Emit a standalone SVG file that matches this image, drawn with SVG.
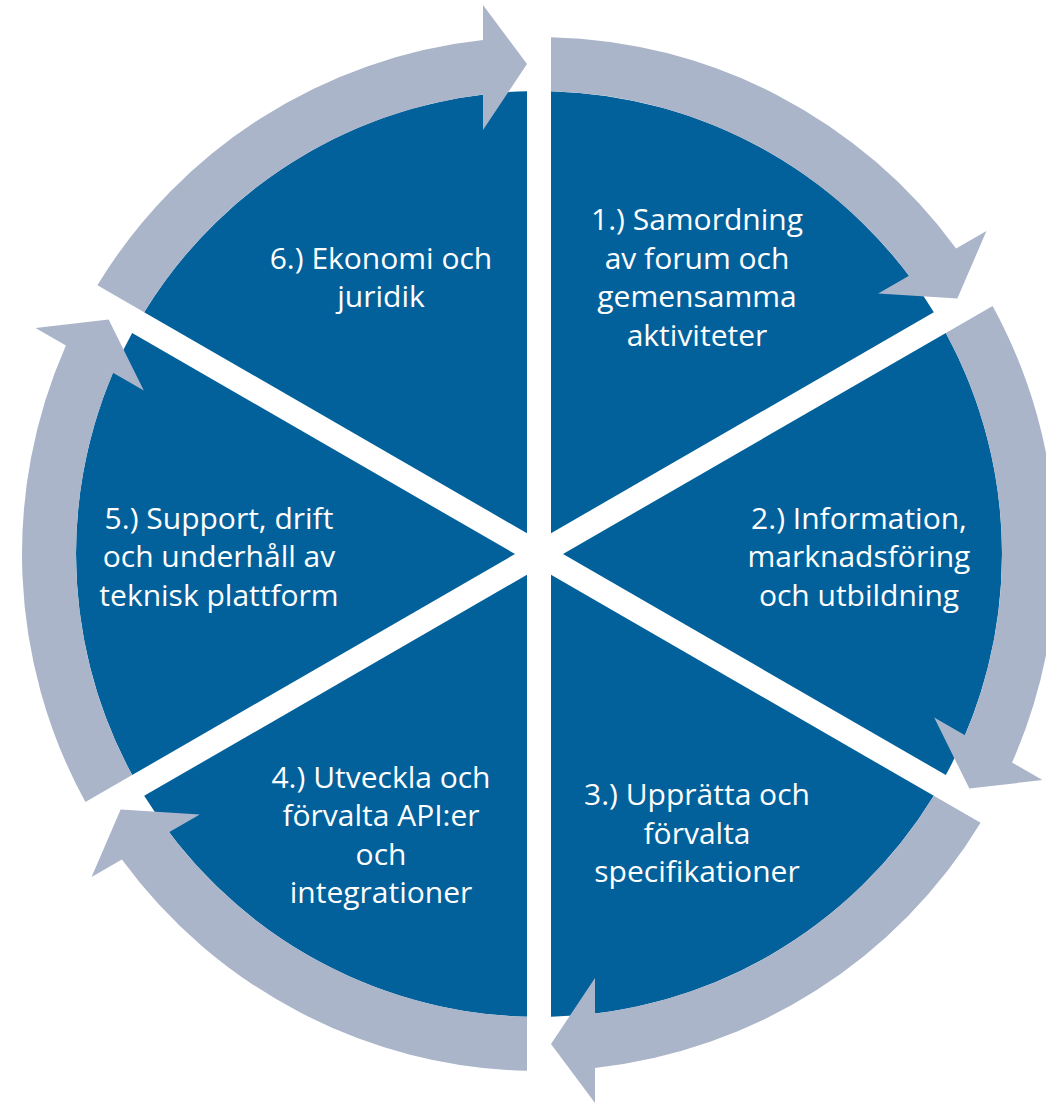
<svg xmlns="http://www.w3.org/2000/svg" width="1046" height="1103" viewBox="0 0 1046 1103">
  <style>
    .slice { fill: #02619B; }
    .arrow { fill: #AAB5CA; }
    .lbl { fill: #FFFFFF; font-family: "Open Sans", "Noto Sans", "Liberation Sans", sans-serif; font-size: 30px; text-anchor: middle; }
  </style>
  <defs>
    <path id="slicePath" d="M -12,-20.78 L -12,-462.84 A 463 463 0 0 0 -394.83,-241.81 Z"/>
    <path id="arrowPath" d="M -394.83,-241.81 A 463 463 0 0 1 -56,-459.60 L -56,-424 L -12,-490 L -56,-549 L -56,-513.96 A 517 517 0 0 0 -441.60,-268.82 Z"/>
  </defs>
  <rect width="1046" height="1103" fill="#FFFFFF"/>

  <g id="node-1">
    <use href="#slicePath" class="slice" transform="translate(539 554) rotate(60)"/>
    <text class="lbl"><tspan x="697" y="230">1.) Samordning</tspan><tspan x="697" y="268.5">av forum och</tspan><tspan x="697" y="307">gemensamma</tspan><tspan x="697" y="345.5">aktiviteter</tspan></text>
  </g>
  <g id="node-2">
    <use href="#slicePath" class="slice" transform="translate(539 554) rotate(120)"/>
    <text class="lbl"><tspan x="859" y="528.5">2.) Information,</tspan><tspan x="859" y="567">marknadsföring</tspan><tspan x="859" y="605.5">och utbildning</tspan></text>
  </g>
  <g id="node-3">
    <use href="#slicePath" class="slice" transform="translate(539 554) rotate(180)"/>
    <text class="lbl"><tspan x="697" y="805">3.) Upprätta och</tspan><tspan x="697" y="843.5">förvalta</tspan><tspan x="697" y="882">specifikationer</tspan></text>
  </g>
  <g id="node-4">
    <use href="#slicePath" class="slice" transform="translate(539 554) rotate(240)"/>
    <text class="lbl"><tspan x="381" y="787.5">4.) Utveckla och</tspan><tspan x="381" y="826">förvalta API:er</tspan><tspan x="381" y="864.5">och</tspan><tspan x="381" y="903">integrationer</tspan></text>
  </g>
  <g id="node-5">
    <use href="#slicePath" class="slice" transform="translate(539 554) rotate(300)"/>
    <text class="lbl"><tspan x="219" y="528.5">5.) Support, drift</tspan><tspan x="219" y="567">och underhåll av</tspan><tspan x="219" y="605.5">teknisk plattform</tspan></text>
  </g>
  <g id="node-6">
    <use href="#slicePath" class="slice" transform="translate(539 554)"/>
    <text class="lbl"><tspan x="381" y="268.5">6.) Ekonomi och</tspan><tspan x="381" y="307">juridik</tspan></text>
  </g>

  <g id="connectors">
    <use href="#arrowPath" class="arrow" transform="translate(539 554)"/>
    <use href="#arrowPath" class="arrow" transform="translate(539 554) rotate(60)"/>
    <use href="#arrowPath" class="arrow" transform="translate(539 554) rotate(120)"/>
    <use href="#arrowPath" class="arrow" transform="translate(539 554) rotate(180)"/>
    <use href="#arrowPath" class="arrow" transform="translate(539 554) rotate(240)"/>
    <use href="#arrowPath" class="arrow" transform="translate(539 554) rotate(300)"/>
  </g>
</svg>
